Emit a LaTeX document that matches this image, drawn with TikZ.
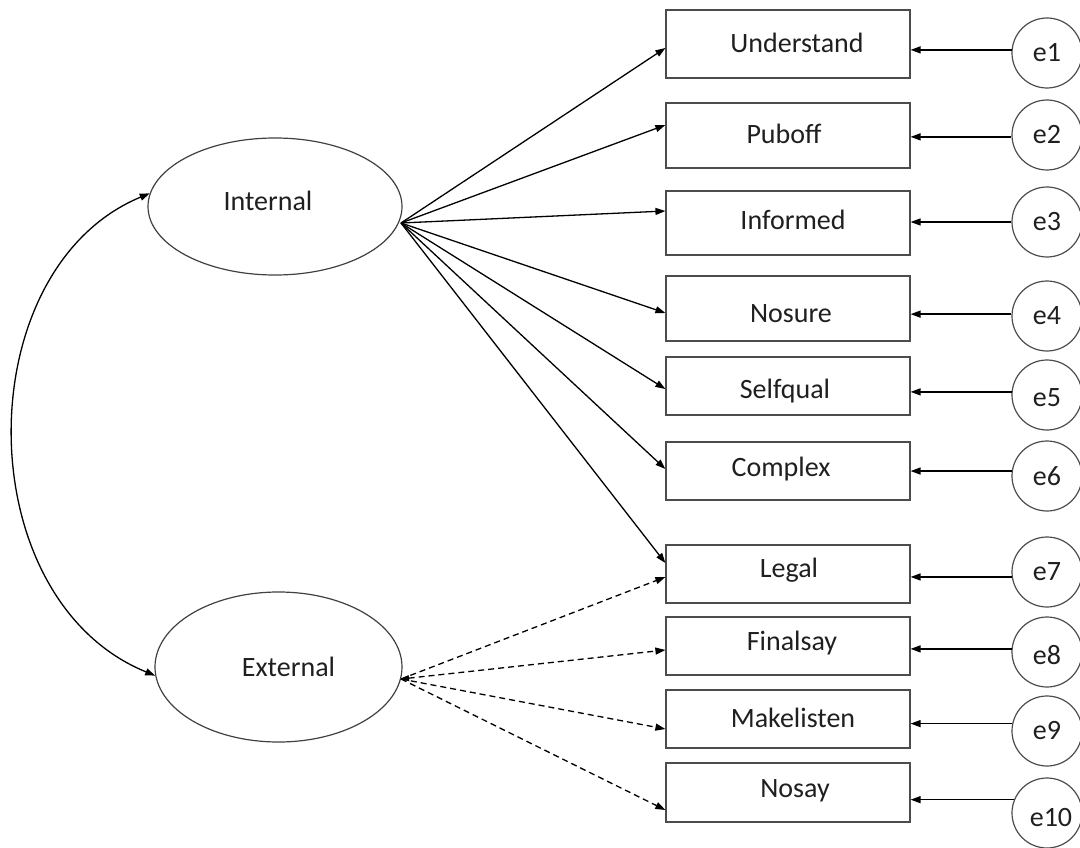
\documentclass[tikz,border=0pt]{standalone}
\usepackage{fontspec}
\setmainfont{Carlito}
\usetikzlibrary{arrows.meta,shapes.geometric,calc}
\begin{document}
\begin{tikzpicture}[x=1pt,y=-1pt,
  every node/.style={font=\fontsize{28}{34}\selectfont, text=black!88},
  obs/.style={draw=black!70, line width=1.2pt, rectangle, minimum width=244pt, inner sep=0pt},
  lat/.style={draw=black!75, line width=1.2pt, ellipse, inner sep=0pt},
  err/.style={draw=black!70, line width=1.2pt, circle, minimum size=70pt, inner sep=0pt},
  lbl/.style={inner sep=0pt},
  arr/.style={line width=1.3pt, -{Triangle[length=10pt,width=7pt]}},
  darr/.style={arr, dash pattern=on 6pt off 4pt},
]
\useasboundingbox (0,0) rectangle (1080,848);

% latent variables
\node[lat, minimum width=254pt, minimum height=137pt] (int) at (275,206.5) {};
\node[lat, minimum width=247pt, minimum height=150pt] (ext) at (278.5,667) {};
\node[lbl] (intt) at ([xshift=-7pt,yshift=6pt]int.center) {Internal};
\node[lbl] (extt) at ([xshift=10pt]ext.center) {External};

% observed variables
\node[obs, minimum height=68pt] (u)  at (788,44)    {};
\node[obs, minimum height=65pt] (p)  at (788,135.5) {};
\node[obs, minimum height=64pt] (i)  at (788,223)   {};
\node[obs, minimum height=65pt] (n)  at (788,308.5) {};
\node[obs, minimum height=58pt] (s)  at (788,386)   {};
\node[obs, minimum height=58pt] (c)  at (788,471)   {};
\node[obs, minimum height=58pt] (l)  at (788,574)   {};
\node[obs, minimum height=58pt] (f)  at (788,646)   {};
\node[obs, minimum height=58pt] (m)  at (788,719)   {};
\node[obs, minimum height=59pt] (ns) at (788,792.5) {};

\node[lbl] (ut)  at ([xshift=9pt,yshift=1pt]u.center)    {Understand};
\node[lbl] (pt)  at ([xshift=-4pt,yshift=2pt]p.center)   {Puboff};
\node[lbl] (it)  at ([xshift=5pt,yshift=3pt]i.center)    {Informed};
\node[lbl] (nt)  at ([xshift=3pt,yshift=-5pt]n.center)   {Nosure};
\node[lbl] (st)  at ([xshift=-3pt,yshift=-5pt]s.center)  {Selfqual};
\node[lbl] (ct)  at ([xshift=-7pt,yshift=2pt]c.center)   {Complex};
\node[lbl] (lt)  at ([xshift=1pt,yshift=4pt]l.center)    {Legal};
\node[lbl] (ft)  at ([xshift=4pt,yshift=3pt]f.center)    {Finalsay};
\node[lbl] (mt)  at ([xshift=5pt,yshift=1pt]m.center)    {Makelisten};
\node[lbl] (nst) at ([xshift=7pt,yshift=1.5pt]ns.center) {Nosay};

% error terms
\node[err] (e1)  at (1047,53)  {e1};
\node[err] (e2)  at (1047,135) {e2};
\node[err] (e3)  at (1047,222) {e3};
\node[err] (e4)  at (1047,316) {e4};
\node[err] (e5)  at (1047,395) {};
\node[err] (e6)  at (1047,476) {e6};
\node[err] (e7)  at (1047,572) {e7};
\node[err] (e8)  at (1047,652) {};
\node[err] (e9)  at (1047,731) {e9};
\node[err] (e10) at (1047,813) {};
\node[lbl] (e5t)  at ([yshift=-3pt]e5.center) {e5};
\node[lbl] (e8t)  at ([yshift=-3pt]e8.center) {e8};
\node[lbl] (e10t) at ([xshift=4pt,yshift=-5pt]e10.center) {e10};

% fan origins
\coordinate (fi) at (401,223);
\coordinate (fe) at (401,679);

% covariance
\draw[line width=1.3pt, {Triangle[length=10pt,width=7pt]}-{Triangle[length=10pt,width=7pt]}]
  (int.174) .. controls (-33,269) and (-33,599) .. (ext.184);

% Internal loadings
\draw[arr] (fi) -- ([yshift=-4pt]u.west);
\draw[arr] (fi) -- ([yshift=10.5pt]p.west);
\draw[arr] (fi) -- ([yshift=12pt]i.west);
\draw[arr] (fi) -- ([yshift=-4.5pt]n.west);
\draw[arr] (fi) -- ([yshift=-3pt]s.west);
\draw[arr] (fi) -- ([yshift=2pt]c.west);
\draw[arr] (fi) -- ([yshift=11pt]l.west);

% External loadings
\draw[darr] (fe) -- ([yshift=-3pt]l.west);
\draw[darr, {Triangle[length=8pt,width=6pt]}-{Triangle[length=10pt,width=7pt]}] (fe) -- ([yshift=-4pt]f.west);
\draw[darr] (fe) -- ([yshift=-10pt]m.west);
\draw[darr] (fe) -- ([yshift=-17.5pt]ns.west);

% error paths
\draw[arr] (e1.175)  -- (u.east |- e1.175);
\draw[arr] (e2.183)  -- (p.east |- e2.183);
\draw[arr] (e3.180)  -- (i.east |- e3.180);
\draw[arr] (e4.177)  -- (n.east |- e4.177);
\draw[arr] (e5.175)  -- (s.east |- e5.175);
\draw[arr] (e6.172)  -- (c.east |- e6.172);
\draw[arr] (e7.188)  -- (l.east |- e7.188);
\draw[arr] (e8.175)  -- (f.east |- e8.175);
\draw[arr] (e9.168)  -- (m.east |- e9.168);
\draw[arr] (e10.158) -- (ns.east |- e10.158);
\end{tikzpicture}
\end{document}
